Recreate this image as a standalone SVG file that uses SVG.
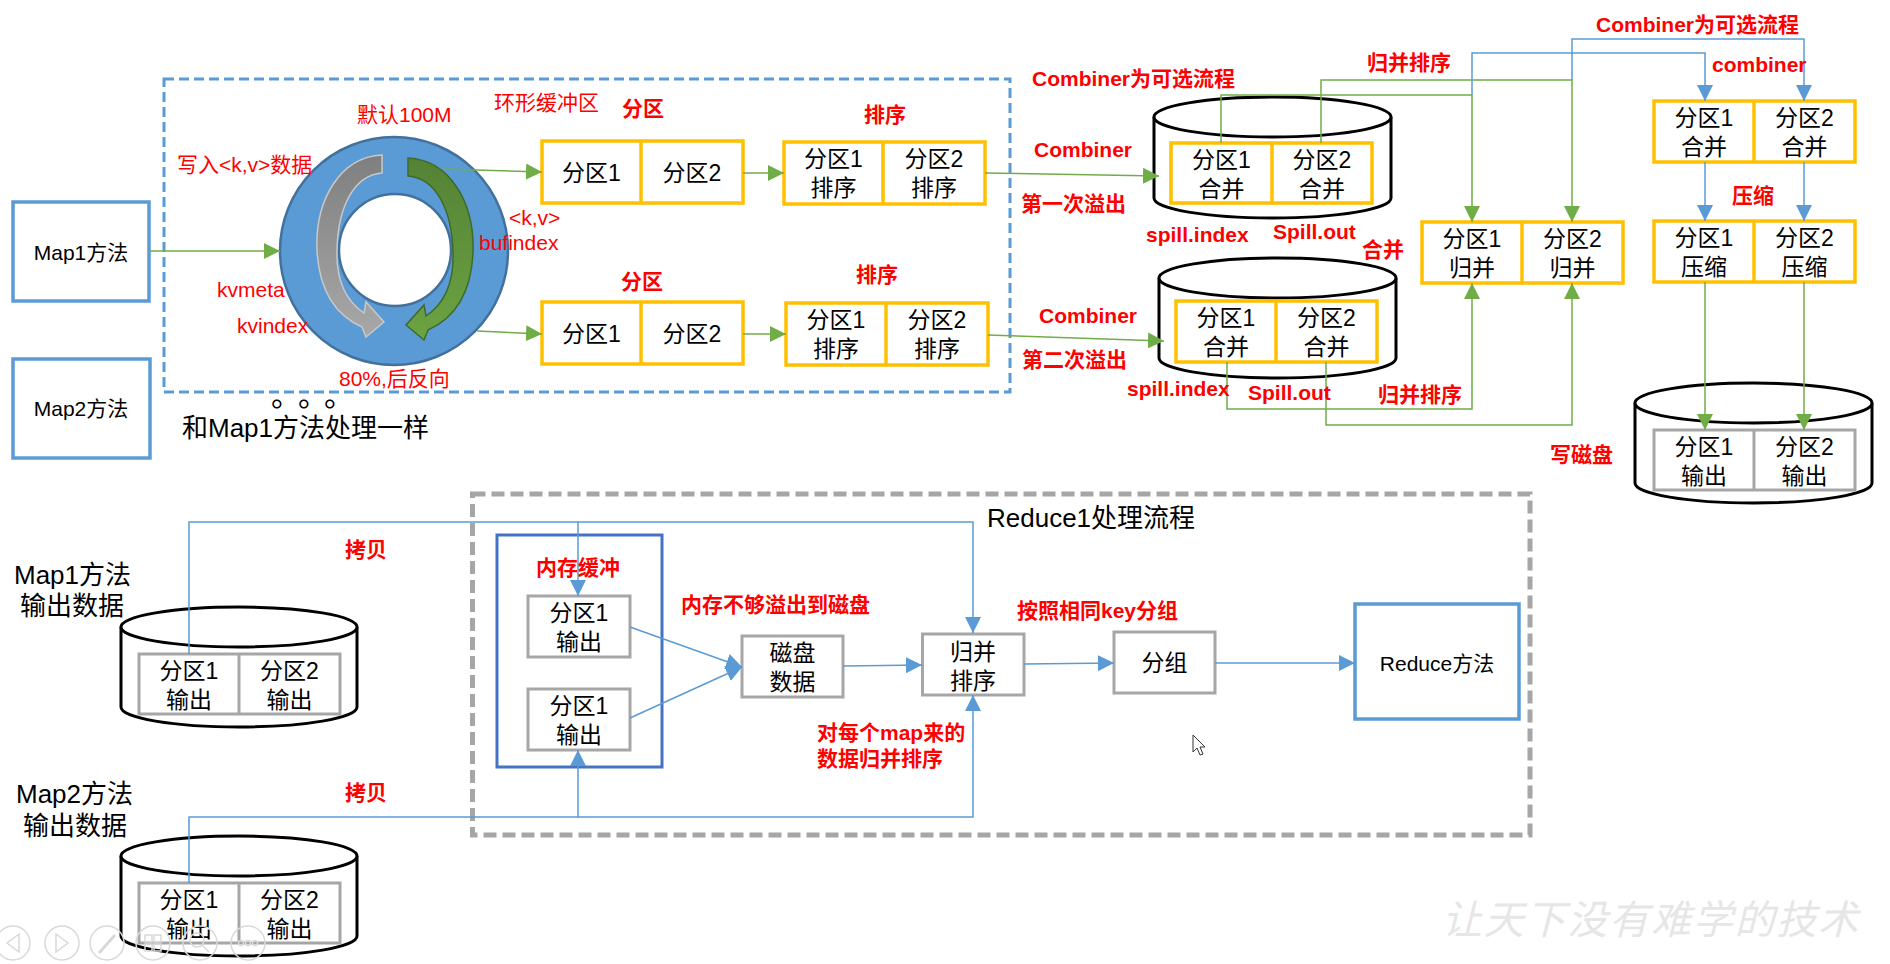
<svg xmlns="http://www.w3.org/2000/svg" width="1890" height="964" viewBox="0 0 1890 964">
<style>
text{font-family:"Liberation Sans","Noto Sans CJK SC",sans-serif}
.c{font-size:23px;text-anchor:middle;fill:#000}
.r{font-size:21px;font-weight:bold;fill:#ff0000}
.rn{font-size:21px;fill:#ff0000}
.k{fill:#000}
.y{fill:#fff;stroke:#ffc000;stroke-width:3.5}
.yl{stroke:#ffc000;stroke-width:3.5}
.gy{fill:#fff;stroke:#a6a6a6;stroke-width:3}
.gyl{stroke:#a6a6a6;stroke-width:3}
.cyl{fill:#fff;stroke:#000;stroke-width:3}
.g{fill:none;stroke:#70ad47;stroke-width:1.5}
.b{fill:none;stroke:#5b9bd5;stroke-width:1.5}
.tb{fill:none;stroke:#d9d9d9;stroke-width:1.5}
</style>
<defs>
<marker id="ga" markerUnits="userSpaceOnUse" markerWidth="16" markerHeight="16" viewBox="0 0 16 16" refX="16" refY="8" orient="auto"><path d="M0,0 L16,8 L0,16 Z" fill="#70ad47"/></marker>
<marker id="ba" markerUnits="userSpaceOnUse" markerWidth="16" markerHeight="16" viewBox="0 0 16 16" refX="16" refY="8" orient="auto"><path d="M0,0 L16,8 L0,16 Z" fill="#5b9bd5"/></marker>
<linearGradient id="gg" x1="0" y1="0" x2="0" y2="1"><stop offset="0" stop-color="#7f7f7f"/><stop offset="1" stop-color="#a8a8a8"/></linearGradient>
<linearGradient id="gr" x1="0" y1="0" x2="0" y2="1"><stop offset="0" stop-color="#548235"/><stop offset="1" stop-color="#6ca342"/></linearGradient>
<path id="curl" d="M382,155 C340,157 315,200 317,250 C319,290 335,315 362,327 L366,337 L384,322 L366,302 L364,313 C345,300 336,280 337,250 C338,205 355,175 382,173 Z"/>
</defs>
<rect width="1890" height="964" fill="#fff"/>

<!-- frames -->
<rect id="map-frame" x="164" y="79" width="846" height="313" fill="none" stroke="#5b9bd5" stroke-width="3" stroke-dasharray="10 5"/>
<rect id="reduce-frame" x="472.5" y="494" width="1057.5" height="341" fill="none" stroke="#a6a6a6" stroke-width="5" stroke-dasharray="13 6"/>

<!-- map nodes -->
<g id="map1">
<rect x="13" y="202" width="136" height="99" fill="#fff" stroke="#5b9bd5" stroke-width="3.5"/>
<text x="81" y="260" class="c" style="font-size:21px">Map1方法</text>
</g>
<g id="map2">
<rect x="13" y="359" width="137" height="99" fill="#fff" stroke="#5b9bd5" stroke-width="3.5"/>
<text x="81" y="416" class="c" style="font-size:21px">Map2方法</text>
</g>

<g id="ring-buffer">
<circle cx="394" cy="251" r="114" fill="#5b9bd5" stroke="#41719c" stroke-width="2.5"/>
<circle cx="395" cy="250" r="56" fill="#fff" stroke="#41719c" stroke-width="2.5"/>
<use href="#curl" fill="url(#gg)" stroke="#c8c8c8" stroke-width="1.5"/>
<use href="#curl" transform="translate(790,3) scale(-1,1)" fill="url(#gr)" stroke="#3f6a2a" stroke-width="1.5"/>
</g>

<g id="partition-top">
<rect x="542" y="141" width="201" height="62" class="y"/><line x1="641" y1="141" x2="641" y2="203" class="yl"/>
<text x="591.5" y="181" class="c">分区1</text><text x="692" y="181" class="c">分区2</text>
</g>
<g id="partition-bottom">
<rect x="542" y="302" width="201" height="62" class="y"/><line x1="641" y1="302" x2="641" y2="364" class="yl"/>
<text x="591.5" y="342" class="c">分区1</text><text x="692" y="342" class="c">分区2</text>
</g>
<g id="sort-top">
<rect x="784" y="142" width="201" height="62" class="y"/><line x1="883" y1="142" x2="883" y2="204" class="yl"/>
<text x="833.5" y="166.5" class="c">分区1</text><text x="833.5" y="195.5" class="c">排序</text>
<text x="934" y="166.5" class="c">分区2</text><text x="934" y="195.5" class="c">排序</text>
</g>
<g id="sort-bottom">
<rect x="786" y="303" width="202" height="62" class="y"/><line x1="886" y1="303" x2="886" y2="365" class="yl"/>
<text x="836" y="327.5" class="c">分区1</text><text x="836" y="356.5" class="c">排序</text>
<text x="937" y="327.5" class="c">分区2</text><text x="937" y="356.5" class="c">排序</text>
</g>

<g id="spill1">
<path d="M1154,117 V198 A118.5,20 0 0,0 1391,198 V117" class="cyl"/>
<ellipse cx="1272.5" cy="117" rx="118.5" ry="20" class="cyl"/>
<rect x="1171" y="143" width="201" height="60" class="y"/><line x1="1272" y1="143" x2="1272" y2="203" class="yl"/>
<text x="1221.5" y="167.5" class="c">分区1</text><text x="1221.5" y="196.5" class="c">合并</text>
<text x="1322" y="167.5" class="c">分区2</text><text x="1322" y="196.5" class="c">合并</text>
</g>
<g id="spill2">
<path d="M1159,278 V358 A118.5,20 0 0,0 1396,358 V278" class="cyl"/>
<ellipse cx="1277.5" cy="278" rx="118.5" ry="20" class="cyl"/>
<rect x="1176" y="301" width="201" height="61" class="y"/><line x1="1276" y1="301" x2="1276" y2="362" class="yl"/>
<text x="1226" y="325.5" class="c">分区1</text><text x="1226" y="354.5" class="c">合并</text>
<text x="1326.5" y="325.5" class="c">分区2</text><text x="1326.5" y="354.5" class="c">合并</text>
</g>

<g id="merge">
<rect x="1422" y="222" width="201" height="61" class="y"/><line x1="1522" y1="222" x2="1522" y2="283" class="yl"/>
<text x="1472" y="246.5" class="c">分区1</text><text x="1472" y="275.5" class="c">归并</text>
<text x="1572.5" y="246.5" class="c">分区2</text><text x="1572.5" y="275.5" class="c">归并</text>
</g>
<g id="combine">
<rect x="1654" y="101" width="201" height="61" class="y"/><line x1="1754" y1="101" x2="1754" y2="162" class="yl"/>
<text x="1704" y="125.5" class="c">分区1</text><text x="1704" y="154.5" class="c">合并</text>
<text x="1804.5" y="125.5" class="c">分区2</text><text x="1804.5" y="154.5" class="c">合并</text>
</g>
<g id="compress">
<rect x="1654" y="221" width="201" height="61" class="y"/><line x1="1754" y1="221" x2="1754" y2="282" class="yl"/>
<text x="1704" y="245.5" class="c">分区1</text><text x="1704" y="274.5" class="c">压缩</text>
<text x="1804.5" y="245.5" class="c">分区2</text><text x="1804.5" y="274.5" class="c">压缩</text>
</g>
<g id="output-disk">
<path d="M1635,403 V483 A118.5,20 0 0,0 1872,483 V403" class="cyl"/>
<ellipse cx="1753.5" cy="403" rx="118.5" ry="20" class="cyl"/>
<rect x="1654" y="430" width="201" height="60" class="gy"/><line x1="1754" y1="430" x2="1754" y2="490" class="gyl"/>
<text x="1704" y="454.5" class="c">分区1</text><text x="1704" y="483.5" class="c">输出</text>
<text x="1804.5" y="454.5" class="c">分区2</text><text x="1804.5" y="483.5" class="c">输出</text>
</g>

<!-- reduce side -->
<g id="map1-output">
<text x="14" y="584" class="k" style="font-size:26px">Map1方法</text>
<text x="20" y="615" class="k" style="font-size:26px">输出数据</text>
<path d="M121,627 V707 A118,20 0 0,0 357,707 V627" class="cyl"/>
<ellipse cx="239" cy="627" rx="118" ry="20" class="cyl"/>
<rect x="139" y="654" width="201" height="60" class="gy"/><line x1="239" y1="654" x2="239" y2="714" class="gyl"/>
<text x="189" y="679" class="c">分区1</text><text x="189" y="708" class="c">输出</text>
<text x="289.5" y="679" class="c">分区2</text><text x="289.5" y="708" class="c">输出</text>
</g>
<g id="map2-output">
<text x="16" y="803" class="k" style="font-size:26px">Map2方法</text>
<text x="23" y="835" class="k" style="font-size:26px">输出数据</text>
<path d="M121,856 V936 A118,20 0 0,0 357,936 V856" class="cyl"/>
<ellipse cx="239" cy="856" rx="118" ry="20" class="cyl"/>
<rect x="139" y="883" width="201" height="60" class="gy"/><line x1="239" y1="883" x2="239" y2="943" class="gyl"/>
<text x="189" y="908" class="c">分区1</text><text x="189" y="937" class="c">输出</text>
<text x="289.5" y="908" class="c">分区2</text><text x="289.5" y="937" class="c">输出</text>
</g>
<g id="memory-buffer">
<rect x="497" y="535" width="165" height="232" fill="none" stroke="#4472c4" stroke-width="3"/>
<rect x="528" y="596" width="102" height="61" class="gy"/>
<text x="579" y="621" class="c">分区1</text><text x="579" y="650" class="c">输出</text>
<rect x="528" y="689" width="102" height="61" class="gy"/>
<text x="579" y="714" class="c">分区1</text><text x="579" y="743" class="c">输出</text>
</g>
<g id="disk-data">
<rect x="742" y="636" width="101" height="61" class="gy"/>
<text x="792.5" y="660.5" class="c">磁盘</text><text x="792.5" y="689.5" class="c">数据</text>
</g>
<g id="merge-sort">
<rect x="922.5" y="634" width="101.5" height="61" class="gy"/>
<text x="973" y="659.5" class="c">归并</text><text x="973" y="688.5" class="c">排序</text>
</g>
<g id="group">
<rect x="1114" y="632" width="101" height="61" class="gy"/>
<text x="1164.5" y="671" class="c">分组</text>
</g>
<g id="reduce-method">
<rect x="1355" y="604" width="164" height="115" fill="#fff" stroke="#5b9bd5" stroke-width="3.5"/>
<text x="1437" y="671" class="c" style="font-size:21px">Reduce方法</text>
</g>

<g id="connectors">
<path class="g" d="M149,251 H280" marker-end="url(#ga)"/>
<path class="g" d="M443,169 L542,172" marker-end="url(#ga)"/>
<path class="g" d="M477,331 L542,334" marker-end="url(#ga)"/>
<path class="g" d="M743,173 H784" marker-end="url(#ga)"/>
<path class="g" d="M743,334 H786" marker-end="url(#ga)"/>
<path class="g" d="M985,173 L1159,176" marker-end="url(#ga)"/>
<path class="g" d="M988,335 L1164,341" marker-end="url(#ga)"/>
<path class="g" d="M1221,143 V95 H1472 V222" marker-end="url(#ga)"/>
<path class="g" d="M1321,143 V80 H1572 V222" marker-end="url(#ga)"/>
<path class="g" d="M1227,362 V409 H1472 V283" marker-end="url(#ga)"/>
<path class="g" d="M1326,362 V425 H1572 V283" marker-end="url(#ga)"/>
<path class="g" d="M1705,282 V430" marker-end="url(#ga)"/>
<path class="g" d="M1804,282 V430" marker-end="url(#ga)"/>
<path class="b" d="M1472,95 V53 H1705 V101" marker-end="url(#ba)"/>
<path class="b" d="M1572,80 V39 H1804 V101" marker-end="url(#ba)"/>
<path class="b" d="M1705,162 V221" marker-end="url(#ba)"/>
<path class="b" d="M1804,162 V221" marker-end="url(#ba)"/>
<path class="b" d="M189,654 V522 H578 V596" marker-end="url(#ba)"/>
<path class="b" d="M578,522 H973 V633" marker-end="url(#ba)"/>
<path class="b" d="M189,883 V817 H578 V750" marker-end="url(#ba)"/>
<path class="b" d="M578,817 H973 V695" marker-end="url(#ba)"/>
<path class="b" d="M630,627 L742,667" marker-end="url(#ba)"/>
<path class="b" d="M630,718 L742,667" marker-end="url(#ba)"/>
<path class="b" d="M843,666 L922,665" marker-end="url(#ba)"/>
<path class="b" d="M1024,664 L1114,663" marker-end="url(#ba)"/>
<path class="b" d="M1215,663 L1355,663" marker-end="url(#ba)"/>
</g>

<g id="labels">
<text x="357" y="122" class="rn">默认100M</text>
<text x="494" y="110" class="rn">环形缓冲区</text>
<text x="177" y="172" class="rn">写入&lt;k,v&gt;数据</text>
<text x="509" y="225" class="rn">&lt;k,v&gt;</text>
<text x="479" y="250" class="rn">bufindex</text>
<text x="217" y="297" class="rn">kvmeta</text>
<text x="237" y="333" class="rn">kvindex</text>
<text x="339" y="386" class="rn">80%,后反向</text>
<text y="406" style="font-size:30px;font-family:'Noto Sans CJK SC',sans-serif" class="k"><tspan x="271">。</tspan><tspan x="298">。</tspan><tspan x="324">。</tspan></text>
<text x="182" y="437" class="k" style="font-size:26px">和Map1方法处理一样</text>
<text x="643" y="116" class="r" text-anchor="middle">分区</text>
<text x="885" y="122" class="r" text-anchor="middle">排序</text>
<text x="642" y="289" class="r" text-anchor="middle">分区</text>
<text x="877" y="282" class="r" text-anchor="middle">排序</text>
<text x="1032" y="86" class="r">Combiner为可选流程</text>
<text x="1367" y="70" class="r">归并排序</text>
<text x="1034" y="157" class="r">Combiner</text>
<text x="1021" y="211" class="r">第一次溢出</text>
<text x="1146" y="242" class="r">spill.index</text>
<text x="1273" y="239" class="r">Spill.out</text>
<text x="1362" y="257" class="r">合并</text>
<text x="1039" y="323" class="r">Combiner</text>
<text x="1022" y="367" class="r">第二次溢出</text>
<text x="1127" y="396" class="r">spill.index</text>
<text x="1248" y="400" class="r">Spill.out</text>
<text x="1378" y="402" class="r">归并排序</text>
<text x="1596" y="32" class="r">Combiner为可选流程</text>
<text x="1712" y="72" class="r">combiner</text>
<text x="1732" y="203" class="r">压缩</text>
<text x="1550" y="462" class="r">写磁盘</text>
<text x="345" y="557" class="r">拷贝</text>
<text x="345" y="800" class="r">拷贝</text>
<text x="536" y="575" class="r">内存缓冲</text>
<text x="681" y="612" class="r">内存不够溢出到磁盘</text>
<text x="817" y="740" class="r">对每个map来的</text>
<text x="817" y="766" class="r">数据归并排序</text>
<text x="1017" y="618" class="r">按照相同key分组</text>
<text x="987" y="527" class="k" style="font-size:26px">Reduce1处理流程</text>
</g>

<g id="watermark">
<text x="1442" y="934" textLength="416" style="font-size:40px;font-family:'Noto Sans CJK SC',sans-serif;font-style:italic" fill="#e6e6e6">让天下没有难学的技术</text>
</g>
<g id="slideshow-toolbar">
<circle cx="13" cy="943" r="17" class="tb"/><path d="M19,934 L7,943 L19,952 Z" class="tb"/>
<circle cx="62" cy="943" r="17" class="tb"/><path d="M56,934 L68,943 L56,952 Z" class="tb"/>
<circle cx="107" cy="943" r="17" class="tb"/><path d="M99,953 L115,935" class="tb" style="stroke-width:3"/>
<circle cx="153" cy="943" r="17" class="tb"/><rect x="145" y="935" width="7" height="7" class="tb"/><rect x="154" y="935" width="7" height="7" class="tb"/><rect x="145" y="944" width="7" height="7" class="tb"/><rect x="154" y="944" width="7" height="7" class="tb"/>
<circle cx="200" cy="943" r="17" class="tb"/><circle cx="197" cy="940" r="7" class="tb"/><path d="M202,945 L209,952" class="tb"/>
<circle cx="248" cy="943" r="17" class="tb"/><circle cx="241" cy="943" r="2.5" class="tb"/><circle cx="248" cy="943" r="2.5" class="tb"/><circle cx="255" cy="943" r="2.5" class="tb"/>
</g>
<g id="cursor">
<path d="M1193,735 L1193,752 L1197,748 L1200,755 L1203,754 L1200,747 L1205,747 Z" fill="#fff" stroke="#333" stroke-width="1"/>
</g>
</svg>
